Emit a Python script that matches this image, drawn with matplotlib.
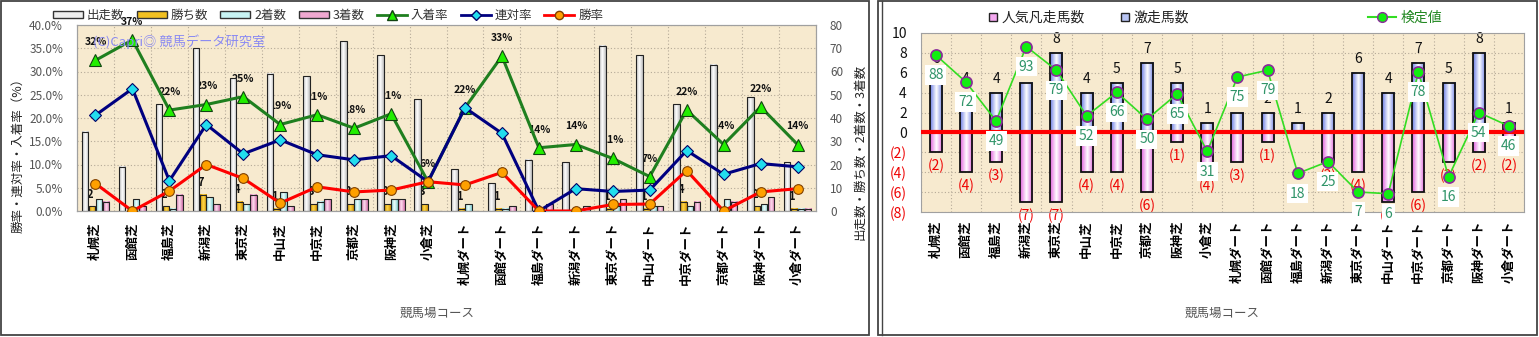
import numpy as np
import matplotlib
matplotlib.use('Agg')
import matplotlib.pyplot as plt
from matplotlib.colors import LinearSegmentedColormap
from matplotlib.patches import Rectangle, Patch
from matplotlib.lines import Line2D

plt.rcParams['font.family'] = ['Noto Sans CJK JP', 'DejaVu Sans']

courses = ['札幌芝', '函館芝', '福島芝', '新潟芝', '東京芝', '中山芝', '中京芝', '京都芝', '阪神芝', '小倉芝',
           '札幌ダート', '函館ダート', '福島ダート', '新潟ダート', '東京ダート', '中山ダート', '中京ダート',
           '京都ダート', '阪神ダート', '小倉ダート']

# counts (right axis of the left chart)
starts = [34, 19, 46, 70, 57, 59, 58, 73, 67, 48, 18, 12, 22, 21, 71, 67, 46, 63, 49, 21]
wins = [2, 0, 2, 7, 4, 1, 3, 3, 3, 3, 1, 1, 0, 0, 1, 1, 4, 0, 2, 1]
seconds = [5, 5, 1, 6, 3, 8, 4, 5, 5, 0, 3, 1, 0, 1, 2, 2, 2, 5, 3, 1]
thirds = [4, 2, 7, 3, 7, 2, 5, 5, 5, 0, 0, 2, 3, 2, 5, 2, 4, 4, 6, 1]

# rates in %
win_rate = [5.9, 0.0, 4.3, 10.0, 7.0, 1.7, 5.2, 4.1, 4.5, 6.3, 5.6, 8.3, 0.0, 0.0, 1.4, 1.5, 8.7, 0.0, 4.1, 4.8]
rentai_rate = [20.6, 26.3, 6.5, 18.6, 12.3, 15.3, 12.1, 11.0, 11.9, 6.3, 22.2, 16.7, 0.0, 4.8, 4.2, 4.5, 13.0, 7.9,
               10.2, 9.5]
place_rate = [32.4, 36.8, 21.7, 22.9, 24.6, 18.6, 20.7, 17.8, 20.9, 6.3, 22.2, 33.3, 13.6, 14.3, 11.3, 7.4, 21.7,
              14.3, 22.4, 14.3]

# right chart
gekisou = [6, 4, 4, 5, 8, 4, 5, 7, 5, 1, 2, 2, 1, 2, 6, 4, 7, 5, 8, 1]
bonsou = [2, 4, 3, 7, 7, 4, 4, 6, 1, 4, 3, 1, 0, 3, 4, 7, 6, 3, 2, 2]
kentei = [88, 72, 49, 93, 79, 52, 66, 50, 65, 31, 75, 79, 18, 25, 7, 6, 78, 16, 54, 46]

W, H = 1539, 337
fig = plt.figure(figsize=(W / 100, H / 100), dpi=100)


def fx(px):
    return px / W


def fy(py):
    return 1 - py / H


def shade(ax, bars, c_side, c_mid, z):
    # horizontal gradient painted under each (unfilled) bar
    cmap = LinearSegmentedColormap.from_list('g', [c_side, c_mid, c_side])
    grad = np.linspace(0, 1, 64).reshape(1, -1)
    for b in bars:
        h = b.get_height()
        if h == 0:
            continue
        x0, y0, w = b.get_x(), b.get_y(), b.get_width()
        ax.imshow(grad, cmap=cmap, extent=(x0, x0 + w, min(y0, y0 + h), max(y0, y0 + h)),
                  aspect='auto', interpolation='bilinear', zorder=z - 0.01)


# panel frames
fig.patches.append(Rectangle((fx(1), fy(335)), 868 / W, 334 / H, transform=fig.transFigure,
                             fill=False, ec='#444444', lw=1.3))
fig.patches.append(Rectangle((fx(878), fy(335)), 659 / W, 334 / H, transform=fig.transFigure,
                             fill=False, ec='#444444', lw=1.3))
fig.lines.append(Line2D([fx(882), fx(882)], [fy(335), fy(1)], transform=fig.transFigure, color='#444444', lw=1))

x = np.arange(len(courses))
bg = '#f7eacf'
grid_kw = dict(color='#b5aa98', ls=(0, (1, 2)), lw=0.8)

# ---------------- left chart ----------------
axL = fig.add_axes([fx(77), fy(211), (816 - 77) / W, (211 - 25) / H])
axL.set_facecolor(bg)
axL2 = axL.twinx()

bw = 0.18
step = 0.187
count_series = [(starts, '#bdbdbd', '#ffffff'), (wins, '#d39200', '#ffd84a'),
                (seconds, '#84d0d0', '#f0ffff'), (thirds, '#d070a8', '#ffdcef')]
for k, (vals, cs, cm) in enumerate(count_series):
    bars = axL.bar(x + (k - 1.5) * step, vals, bw, facecolor='none', edgecolor='#222222', lw=0.8, zorder=2)
    shade(axL, bars, cs, cm, 2)

for i, v in enumerate(wins):
    if v > 0:
        axL.text(i - 1.5 * step + 0.12, v + 5.2, str(v), ha='center', va='center', fontsize=8,
                 fontweight='bold', color='#111111', zorder=1.8)

axL.set_xlim(-0.5, len(courses) - 0.5)
axL.set_ylim(0, 80)
axL.set_yticks(range(0, 81, 10))
axL.yaxis.tick_right()
axL.set_xticks(x)
axL.set_xticklabels(courses, rotation=90, fontsize=9, fontweight='bold')
axL.set_xticks(np.arange(-0.5, len(courses), 1), minor=True)
axL.tick_params(axis='x', which='both', length=0, pad=8)
axL.tick_params(axis='y', length=0, pad=10, labelsize=8.5, labelcolor='#555555')
axL.grid(axis='y', which='major', **grid_kw)
axL.grid(axis='x', which='minor', **grid_kw)
for s in axL.spines.values():
    s.set_color('#a0a0a0')

axL2.yaxis.tick_left()
axL2.set_ylim(0, 40)
axL2.set_yticks(np.arange(0, 41, 5))
axL2.set_yticklabels([f'{t:.1f}%' for t in np.arange(0, 41, 5)])
axL2.tick_params(axis='y', length=0, pad=10, labelsize=8.5, labelcolor='#555555')
for s in axL2.spines.values():
    s.set_color('#a0a0a0')

axL2.plot(x, place_rate, color='#1f7f1f', lw=2.2, marker='^', ms=9, mfc='#22ee00', mec='#114411',
          mew=0.8, label='入着率', zorder=3)
axL2.plot(x, rentai_rate, color='#000080', lw=2.2, marker='D', ms=6, mfc='#22ddee', mec='#000066',
          mew=0.8, label='連対率', zorder=3)
axL2.plot(x, win_rate, color='#ff0000', lw=2.2, marker='o', ms=7, mfc='#ffa000', mec='#804000',
          mew=0.8, label='勝率', zorder=3)

# place-rate labels sit behind the bars, as in the original sheet
for i, v in enumerate(place_rate):
    axL.annotate(f'{v:.0f}%', xy=(i, v), xycoords=axL2.transData, xytext=(0, 13), textcoords='offset points',
                 ha='center', va='center', fontsize=7.5, fontweight='bold', color='#111111', zorder=1.8)

axL2.text(16 / 739, (211 - 42) / 186, '(C)Capri◎ 競馬データ研究室', transform=axL2.transAxes,
          fontsize=9.5, color='#8a8af2', va='center', ha='left', zorder=5)

legL = [Patch(facecolor='#eeeeee', edgecolor='#333333', label='出走数'),
        Patch(facecolor='#f2c020', edgecolor='#333333', label='勝ち数'),
        Patch(facecolor='#c8f4f4', edgecolor='#333333', label='2着数'),
        Patch(facecolor='#f0a8d0', edgecolor='#333333', label='3着数'),
        Line2D([], [], color='#1f7f1f', lw=2, marker='^', ms=7, mfc='#22ee00', mec='#114411', label='入着率'),
        Line2D([], [], color='#000080', lw=2, marker='D', ms=5, mfc='#22ddee', mec='#000066', label='連対率'),
        Line2D([], [], color='#ff0000', lw=2, marker='o', ms=6, mfc='#ffa000', mec='#804000', label='勝率')]
fig.legend(handles=legL, loc='center', bbox_to_anchor=(fx(328), fy(15)), ncol=7, frameon=False,
           fontsize=9, handlelength=2.4, handleheight=0.5, handletextpad=0.3, columnspacing=1.0,
           labelcolor='#333333')

fig.text(fx(18), fy(152), '勝率・連対率・入着率（%）', rotation=90, ha='center', va='center', fontsize=9,
         color='#222222')
fig.text(fx(860), fy(152), '出走数・勝ち数・2着数・3着数', rotation=90, ha='center', va='center', fontsize=9,
         color='#222222')
fig.text(fx(437), fy(313), '競馬場コース', ha='center', va='center', fontsize=9, color='#555555')

# ---------------- right chart ----------------
axR = fig.add_axes([fx(920.7), fy(212.3), (1524 - 920.7) / W, (212.3 - 32.7) / H])
axR.set_facecolor(bg)
axR2 = axR.twinx()

rbw = 0.4
up = axR.bar(x, gekisou, rbw, facecolor='none', edgecolor='#111111', lw=1.3, zorder=2)
shade(axR, up, '#6a7ce4', '#ffffff', 2)
down = axR.bar(x, [-v for v in bonsou], rbw, facecolor='none', edgecolor='#111111', lw=1.3, zorder=2)
shade(axR, down, '#e060dc', '#ffffff', 2)

for i, v in enumerate(gekisou):
    if v > 0:
        axR.annotate(str(v), xy=(i, v), xytext=(0, 10), textcoords='offset points', ha='center', va='center',
                     fontsize=10, color='#111111', zorder=2.5)
for i, v in enumerate(bonsou):
    if v > 0:
        axR.annotate(f'({v})', xy=(i, -v), xytext=(0, -10), textcoords='offset points', ha='center',
                     va='center', fontsize=10, color='#ee0000', zorder=2.5)

axR.axhline(0, color='#ff0000', lw=3, zorder=3)
axR.set_xlim(-0.5, len(courses) - 0.5)
axR.set_ylim(-8, 10)
rt = list(range(-8, 11, 2))
axR.yaxis.tick_left()
axR.set_yticks(rt)
axR.set_yticklabels([str(t) if t >= 0 else f'({-t})' for t in rt])
for lab, t in zip(axR.get_yticklabels(), rt):
    lab.set_color('#ee0000' if t < 0 else '#111111')
axR.tick_params(axis='y', length=0, pad=10, labelsize=10)
axR.set_xticks(x)
axR.set_xticklabels(courses, rotation=90, fontsize=9, fontweight='bold')
axR.set_xticks(np.arange(-0.5, len(courses), 1), minor=True)
axR.tick_params(axis='x', which='both', length=0, pad=6)
axR.grid(axis='y', which='major', **grid_kw)
axR.grid(axis='x', which='minor', **grid_kw)
for s in axR.spines.values():
    s.set_color('#a0a0a0')

axR2.set_ylim(-5, 101.2)
axR2.set_yticks([])
for s in axR2.spines.values():
    s.set_visible(False)
axR2.plot(x, kentei, color='#33dd22', lw=1.2, marker='o', ms=8, mfc='#11ee11', mec='#8a2a9a', mew=1.2,
          zorder=3)
for i, v in enumerate(kentei):
    axR2.annotate(str(v), xy=(i, v), xytext=(0, -14.5), textcoords='offset points', ha='center', va='center',
                  fontsize=10, color='#2f9468', zorder=4,
                  bbox=dict(boxstyle='square,pad=0.2', fc='white', ec='none'))

legR = [Line2D([], [], ls='none', marker='s', ms=6, mfc='#f4a8f0', mec='#222222', label='人気凡走馬数'),
        Line2D([], [], ls='none', marker='s', ms=6, mfc='#b8c4f4', mec='#222222', label='激走馬数')]
fig.legend(handles=legR, loc='center', bbox_to_anchor=(fx(1088), fy(18)), ncol=2, frameon=False,
           fontsize=10, handlelength=0.8, handletextpad=0.2, columnspacing=2.5, labelcolor='#222222')
legK = [Line2D([], [], color='#33dd22', lw=1.5, marker='o', ms=7, mfc='#11ee11', mec='#8a2a9a', label='検定値')]
fig.legend(handles=legK, loc='center', bbox_to_anchor=(fx(1405), fy(18)), frameon=False, fontsize=10,
           handlelength=2.0, handletextpad=0.3, labelcolor='#228822')

fig.text(fx(1222), fy(313), '競馬場コース', ha='center', va='center', fontsize=9, color='#555555')

fig.savefig('out.png', dpi=100)
